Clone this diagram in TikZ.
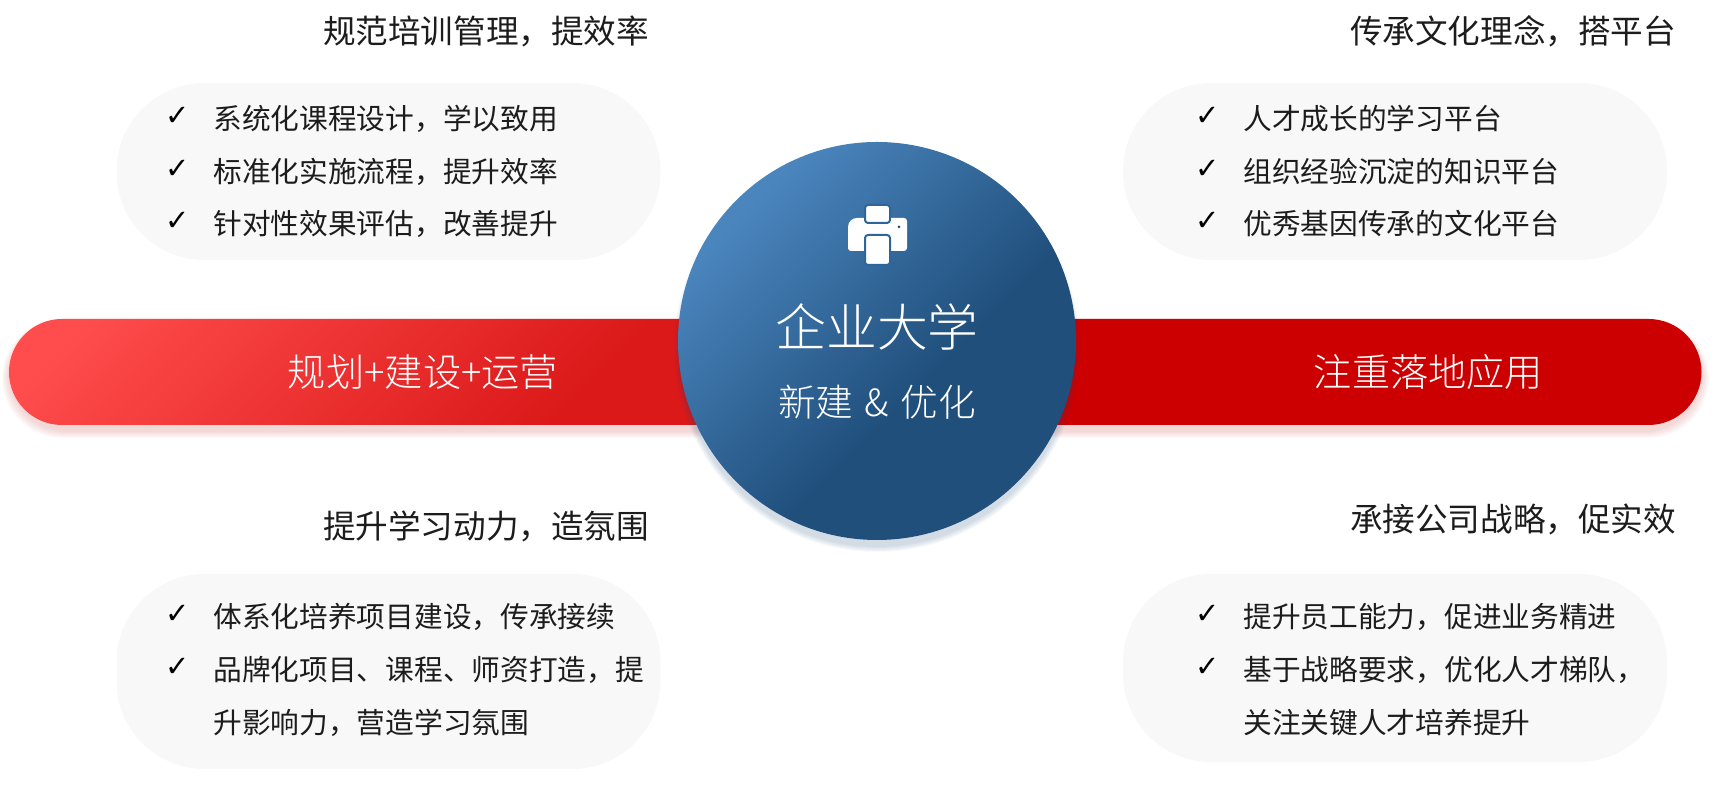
\documentclass[tikz,border=0pt]{standalone}
\usepackage{fontspec}
\setmainfont{Noto Sans CJK SC}
\newfontfamily\thincjk[UprightFont=* Light]{Noto Sans CJK SC}
\newfontfamily\checkfont{DejaVu Sans}
\definecolor{pillgrey}{HTML}{F8F8F8}
\definecolor{inktext}{HTML}{1C1C1C}
\definecolor{barred}{HTML}{CC0000}
\definecolor{bluedark}{HTML}{204F7C}
\definecolor{bluemid}{HTML}{2F6699}
\pgfdeclarehorizontalshading{circleblue}{100bp}{rgb(0bp)=(0.29,0.52,0.74); rgb(27bp)=(0.29,0.52,0.74); rgb(58bp)=(0.125,0.31,0.486); rgb(100bp)=(0.125,0.31,0.486)}
\pgfdeclarehorizontalshading{barleft}{100bp}{rgb(0bp)=(1,0.30,0.30); rgb(20bp)=(1,0.30,0.30); rgb(62bp)=(0.86,0.10,0.10); rgb(100bp)=(0.86,0.10,0.10)}
\tikzset{
  pill/.style={fill=pillgrey,rounded corners=44pt,inner sep=0pt,minimum width=272pt},
  headline/.style={text=inktext,font=\fontsize{16.3}{16.3}\selectfont,text height=14pt,text depth=3pt,inner sep=0pt},
  item/.style={anchor=west,text=inktext,font=\fontsize{14.35}{14.35}\selectfont,text height=11pt,text depth=2.5pt,inner sep=0pt},
  tick/.style={text=black,font=\checkfont\fontsize{14.5}{14.5}\selectfont,inner sep=0pt},
  bartext/.style={text=white,font=\thincjk\fontsize{19.1}{19.1}\selectfont,text height=14.5pt,text depth=3pt,inner sep=0pt},
  bar/.style={rounded corners=26.5pt,minimum height=53pt,inner sep=0pt},
}
\begin{document}
\begin{tikzpicture}[x=0.5pt,y=0.5pt]
  \useasboundingbox (0,0) rectangle (1730,812);
  % grey pills
  \node[pill,minimum height=88.5pt] (pilltl) at (388.5,640.5) {};
  \node[pill,minimum height=88.5pt] (pilltr) at (1395,640.5) {};
  \node[pill,minimum height=97.5pt] (pillbl) at (388.5,140.5) {};
  \node[pill,minimum height=94pt] (pillbr) at (1395,144) {};
  % shadows of the bars
  \foreach \k in {1,...,7} {
    \fill[red!70!black,opacity=0.022,rounded corners=30pt] (9-\k,387-6-\k) rectangle (860,493);
    \fill[red!70!black,opacity=0.022,rounded corners=30pt] (900,387-6-\k) rectangle (1702+\k,493);
  }
  \node[bar,shading=barleft,shading angle=-45,minimum width=425.5pt] (barl) at (434.5,440) {};
  \node[bar,fill=barred,minimum width=401pt] (barr) at (1300.5,440) {};
  % shadow of the circle
  \foreach \k in {1,...,6} {
    \fill[bluedark,opacity=0.035] (877,463) circle ({197+\k});
  }
  \node[circle,shading=circleblue,shading angle=-45,minimum size=199pt,inner sep=0pt] (hub) at (877,471) {};
  % printer
  \fill[white,rounded corners=1.5pt] (848,582) .. controls (848,590) and (852,594) .. (860,594) -- (907,594) -- (907,561) -- (848,561) -- cycle;
  \fill[white,draw=bluemid,line width=1pt,rounded corners=1.5pt] (865,589) rectangle (890,607);
  \fill[white,draw=bluemid,line width=1pt,rounded corners=1.5pt] (865,547) rectangle (890,577);
  \fill[bluedark] (899,585) circle (1.5);
  % texts of the circle
  \node[text=white,font=\thincjk\fontsize{25.4}{25.4}\selectfont,inner sep=0pt] (hubtitle) at (877,485) {企业大学};
  \node[text=white,font=\thincjk\fontsize{18.8}{18.8}\selectfont,inner sep=0pt] (hubsub) at (877,410) {新建\hspace{1.5pt} \&\hspace{1.5pt} 优化};
  \node[bartext] (barltext) at (423,437) {规划+建设+运营};
  \node[bartext] (barrtext) at (1428.5,437) {注重落地应用};
  % headlines
  \node[headline] (headtl) at (486,779) {规范培训管理，提效率};
  \node[headline] (headtr) at (1513,779) {传承文化理念，搭平台};
  \node[headline] (headbl) at (486,284) {提升学习动力，造氛围};
  \node[headline] (headbr) at (1513,291.5) {承接公司战略，促实效};
  % top left
  \node[tick] (tla) at (178,696) {✓};
  \node[tick] (tlb) at (178,643) {✓};
  \node[tick] (tlc) at (178,591) {✓};
  \node[item] (itla) at (213,691) {系统化课程设计，学以致用};
  \node[item] (itlb) at (213,638) {标准化实施流程，提升效率};
  \node[item] (itlc) at (213,586) {针对性效果评估，改善提升};
  % top right
  \node[tick] (tra) at (1208,696) {✓};
  \node[tick] (trb) at (1208,643) {✓};
  \node[tick] (trc) at (1208,591) {✓};
  \node[item] (itra) at (1243,691) {人才成长的学习平台};
  \node[item] (itrb) at (1243,638) {组织经验沉淀的知识平台};
  \node[item] (itrc) at (1243,586) {优秀基因传承的文化平台};
  % bottom left
  \node[tick] (bla) at (178,198) {✓};
  \node[tick] (blb) at (178,145) {✓};
  \node[item] (ibla) at (213,193) {体系化培养项目建设，传承接续};
  \node[item] (iblb) at (213,140) {品牌化项目、课程、师资打造，提};
  \node[item] (iblc) at (213,87) {升影响力，营造学习氛围};
  % bottom right
  \node[tick] (bra) at (1208,198) {✓};
  \node[tick] (brb) at (1208,145) {✓};
  \node[item] (ibra) at (1243,193) {提升员工能力，促进业务精进};
  \node[item] (ibrb) at (1243,140) {基于战略要求，优化人才梯队，};
  \node[item] (ibrc) at (1243,87) {关注关键人才培养提升};
\end{tikzpicture}
\end{document}
